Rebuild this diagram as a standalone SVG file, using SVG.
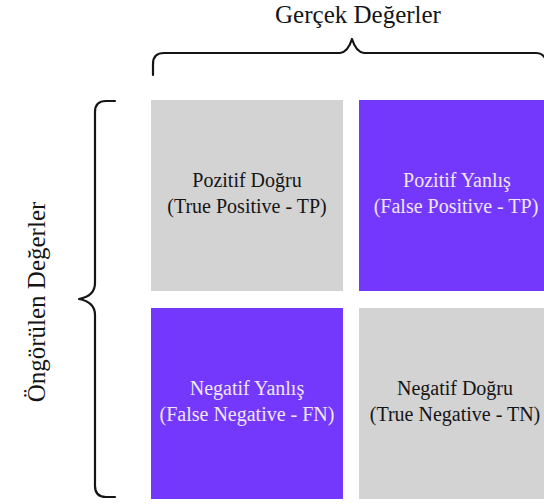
<svg xmlns="http://www.w3.org/2000/svg" width="544" height="504" viewBox="0 0 544 504">
<style>
text{text-anchor:middle}
.cell{font-size:20px}
.dark{fill:#151515}
.light{fill:#f1e6f6}
.gray{fill:#d3d3d3}
.purple{fill:#7438fc}
.brace{fill:none;stroke:#151515;stroke-width:2.2;stroke-linecap:round;stroke-linejoin:round}
.title{font-size:25px;fill:#151515}
</style>
<rect width="544" height="504" fill="#ffffff"/>
<g font-family="'Liberation Serif', 'Times New Roman', Tinos, 'DejaVu Serif', serif">
<g id="title-top"><text class="title" x="358" y="23">Gerçek Değerler</text></g>
<g id="title-left"><text class="title" transform="translate(45,302) rotate(-90)">Öngörülen Değerler</text></g>
<g id="connectors">
<path class="brace" d="M153,75 L153,64 Q153,53 164,53 L340,53 Q348,52 352,39 Q356,52 364,53 L536,53 Q542,53 545,58"/>
<path class="brace" d="M115,101 L106,101 Q95,101 95,112 L95,283 Q95,296 79,299 Q95,302 95,315 L95,486 Q95,497 106,497 L115,497"/>
</g>
<g id="tp">
<rect class="gray" x="151" y="100" width="192" height="191"/>
<text class="cell dark" x="247" y="187">Pozitif Doğru</text>
<text class="cell dark" x="247" y="213">(True Positive - TP)</text>
</g>
<g id="fp">
<rect class="purple" x="359" y="100" width="192" height="191"/>
<text class="cell light" x="457" y="187">Pozitif Yanlış</text>
<text class="cell light" x="456" y="213">(False Positive - TP)</text>
</g>
<g id="fn">
<rect class="purple" x="151" y="308" width="192" height="191"/>
<text class="cell light" x="247" y="395">Negatif Yanlış</text>
<text class="cell light" x="247" y="421">(False Negative - FN)</text>
</g>
<g id="tn">
<rect class="gray" x="359" y="308" width="192" height="191"/>
<text class="cell dark" x="455" y="395">Negatif Doğru</text>
<text class="cell dark" x="455" y="421">(True Negative - TN)</text>
</g>
</g>
</svg>
